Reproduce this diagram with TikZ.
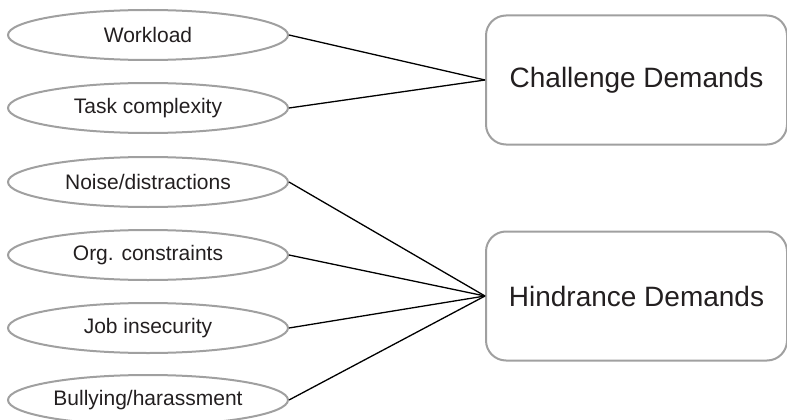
\documentclass[tikz,border=0pt]{standalone}
\usepackage{fontspec}
\setmainfont{Liberation Sans}
\usetikzlibrary{shapes.geometric}
\definecolor{edgegray}{HTML}{A0A0A0}
\definecolor{txt}{HTML}{231F20}
\begin{document}
\begin{tikzpicture}[x=1pt,y=-1pt,
  factor/.style={ellipse, draw=edgegray, line width=2pt, minimum width=280pt, minimum height=50pt, inner sep=0pt, text=txt, font=\fontsize{21}{24}\selectfont},
  demand/.style={rectangle, rounded corners=20pt, draw=edgegray, line width=2pt, minimum width=301pt, minimum height=129pt, inner sep=0pt, text=txt, font=\fontsize{28}{32}\selectfont},
  link/.style={draw=black, line width=1.3pt}]
\useasboundingbox (0,0) rectangle (787,420);
\node[factor] (w) at (148,35) {Workload};
\node[factor] (t) at (148,108) {Task complexity};
\node[factor] (n) at (148,182) {Noise/distractions};
\node[factor] (o) at (148,255) {Org. constraints};
\node[factor] (j) at (148,328) {Job insecurity};
\node[factor] (b) at (148,400) {Bullying/harassment};
\node[demand] (c) at (636.5,80) {\raisebox{-3pt}{Challenge Demands}};
\node[demand] (h) at (636.5,296) {\raisebox{-2pt}{Hindrance Demands}};
\foreach \s in {w,t} \draw[link] (\s.east) -- (c.west);
\foreach \s in {n,o,j,b} \draw[link] (\s.east) -- (h.west);
\end{tikzpicture}
\end{document}
